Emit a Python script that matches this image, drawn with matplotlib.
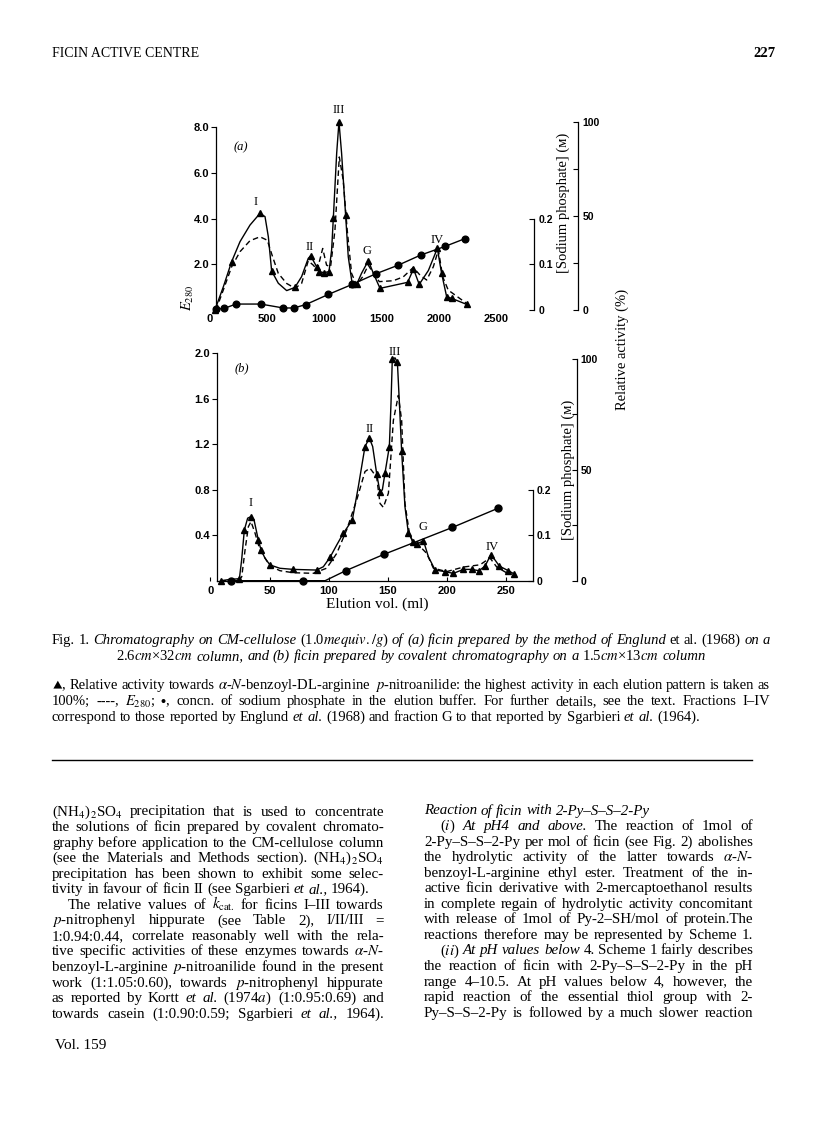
import matplotlib
matplotlib.use('Agg')
import matplotlib.pyplot as plt
from matplotlib.lines import Line2D

plt.rcParams['mathtext.fontset'] = 'stix'

SERIF = ['Liberation Serif', 'DejaVu Serif']
SANS = ['Liberation Sans Narrow', 'Liberation Sans', 'DejaVu Sans']

# ---------------- panel (a): elution vol. in ml ----------------
# E280 (dashed)
e_a_x = [57, 121, 194, 267, 354, 441, 505, 551, 601, 674, 746, 804, 862, 906, 941, 988,
         1022, 1057, 1095, 1133, 1167, 1202, 1240, 1284, 1336, 1386, 1430, 1482, 1604,
         1691, 1778, 1836, 1895, 1953, 1997, 2035, 2083, 2243]
e_a_y = [0, 0.87, 1.89, 2.55, 3.03, 3.2, 3.05, 2.33, 1.6, 1.16, 0.95, 1.16, 2.15, 1.96,
         1.75, 2.69, 1.96, 1.89, 3.49, 6.69, 5.67, 3.49, 1.6, 1.09, 1.45, 1.96, 1.6, 1.24,
         1.28, 1.45, 1.86, 1.53, 1.31, 1.89, 2.62, 1.45, 0.87, 0.29]
# relative activity (%), solid curve and triangles
act_a_x = [48, 122, 194, 267, 354, 441, 485, 514, 543, 601, 674, 746, 804, 862, 883, 935,
           958, 999, 1043, 1066, 1081, 1110, 1130, 1153, 1188, 1211, 1246, 1284, 1327,
           1386, 1430, 1488, 1729, 1780, 1830, 1910, 1988, 2025, 2069, 2112, 2243]
act_a_y = [0, 12.4, 25.7, 36.3, 45.1, 51.3, 49.6, 38.9, 20.7, 14.2, 10.3, 12.0, 17.7,
           27.4, 28.8, 23.0, 20.4, 19.8, 20.4, 31.9, 49.0, 83.2, 100, 83.2, 50.4, 28.3,
           13.6, 13.6, 19.5, 26.2, 19.5, 11.5, 14.7, 21.8, 13.6, 21.0, 32.7, 19.5, 7.1,
           6.2, 3.0]
tri_a_x = [48, 194, 441, 543, 746, 883, 935, 958, 999, 1043, 1081, 1130, 1188, 1246,
           1284, 1386, 1488, 1729, 1780, 1830, 1988, 2025, 2069, 2112, 2243]
tri_a_y = [0, 25.7, 51.3, 20.7, 12.0, 28.8, 23.0, 20.4, 19.8, 20.4, 49.0, 100, 50.4,
           13.6, 13.6, 26.2, 11.5, 14.7, 21.8, 13.6, 32.7, 19.5, 7.1, 6.2, 3.0]
# sodium phosphate (M)
na_a_x = [55, 130, 232, 447, 645, 737, 842, 1037, 1246, 1450, 1647, 1842, 2055, 2229]
na_a_y = [0.0015, 0.0036, 0.013, 0.013, 0.0044, 0.0044, 0.012, 0.034, 0.056, 0.079,
          0.098, 0.12, 0.139, 0.156]

# ---------------- panel (b) ----------------
e_b_x = [8.7, 16.6, 24.5, 26.5, 29.3, 32.1, 34.3, 37.7, 41.9, 50.4, 58.8, 70.1, 87.0,
         98.3, 106.8, 115.3, 123.7, 130.7, 134.9, 140.6, 143.4, 146.2, 150.5, 154.7,
         158.9, 161.7, 164.5, 168.2, 171.6, 177.3, 182.9, 188.5, 199.8, 213.9, 228.0,
         236.4, 242.1, 252.0]
e_b_y = [0, 0, 0.006, 0.035, 0.27, 0.475, 0.52, 0.42, 0.27, 0.13, 0.088, 0.07, 0.065,
         0.11, 0.24, 0.45, 0.71, 0.96, 0.99, 0.91, 0.68, 0.645, 0.77, 1.41, 1.63, 1.41,
         0.68, 0.42, 0.32, 0.30, 0.24, 0.11, 0.08, 0.12, 0.14, 0.2, 0.12, 0.06]
act_b_x = [8.7, 17.1, 24.5, 26.4, 28.7, 31.5, 34.3, 36.9, 40.5, 42.8, 46.2, 50.4, 58.8,
           70.1, 89.8, 95.5, 101.1, 106.8, 112.4, 120.0, 125.1, 130.7, 134.4, 137.2,
           140.6, 143.4, 145.4, 147.6, 151.3, 152.7, 153.8, 156.1, 158.1, 159.8, 161.7,
           164.5, 167.4, 171.6, 175.0, 180.1, 184.3, 190.0, 198.4, 205.4, 213.9, 220.9,
           227.1, 232.2, 237.0, 240.7, 244.3, 251.9, 257.0]
act_b_y = [0, 0.6, 0.9, 9.3, 22.9, 28.2, 28.9, 27.4, 18.4, 13.9, 10.1, 7.1, 5.6, 5.1,
           4.8, 6.3, 10.5, 16.1, 21.4, 27.4, 42.5, 60.5, 64.3, 60.5, 48.2, 39.9, 41.0,
           48.5, 60.5, 80.1, 100, 100.5, 98.5, 80.1, 58.3, 33.4, 21.4, 17.6, 16.6, 18.1,
           10.8, 4.8, 4.1, 3.3, 5.1, 5.1, 4.5, 6.6, 11.6, 9.3, 6.6, 4.5, 3.0]
tri_b_x = [8.7, 24.5, 28.7, 34.3, 40.5, 42.8, 50.4, 70.1, 89.8, 101.1, 112.4, 120.0,
           130.7, 134.4, 140.6, 143.4, 147.6, 151.3, 153.8, 158.1, 161.7, 167.4, 171.6,
           175.0, 180.1, 190.0, 198.4, 205.4, 213.9, 220.9, 227.1, 232.2, 237.0, 244.3,
           251.9, 257.0]
tri_b_y = [0, 0.9, 22.9, 28.9, 18.4, 13.9, 7.1, 5.1, 4.8, 10.5, 21.4, 27.4, 60.5, 64.3,
           48.2, 39.9, 48.5, 60.5, 100, 98.5, 58.3, 21.4, 17.6, 16.6, 18.1, 4.8, 4.1, 3.3,
           5.1, 5.1, 4.5, 6.6, 11.6, 6.6, 4.5, 3.0]
na_b_x = [17.1, 78.6, 114.4, 146.8, 204.5, 242.9]
na_b_y = [0, 0, 0.022, 0.058, 0.117, 0.159]
na_b_line_x = [17.1, 78.6, 97.0, 114.4, 146.8, 204.5, 242.9]
na_b_line_y = [0, 0, 0, 0.022, 0.058, 0.117, 0.159]

# ---------------- page text ----------------
caption1 = ("Fig. 1. /Chromatography /on /CM-cellulose (1.0$\\mathit{mequiv./g}$) /of /(a) /ficin "
            "/prepared /by /the /method /of /Englund et al. (1968) /on /a")
caption2 = ("2.6$\\mathit{cm}$\u00d732$\\mathit{cm}$ /column, /and /(b) /ficin /prepared /by "
            "/covalent /chromatography /on /a 1.5$\\mathit{cm}$\u00d713$\\mathit{cm}$ /column")
legend_lines = [
    "$\\blacktriangle$, Relative activity towards $\\alpha$-$\\mathit{N}$-benzoyl-DL-arginine "
    "$\\mathit{p}$-nitroanilide: the highest activity in each elution pattern is taken as",
    "100%; ----, $E_{280}$; $\\bullet$, concn. of sodium phosphate in the elution buffer. "
    "For further details, see the text. Fractions I\u2013IV",
    "correspond to those reported by Englund /et /al. (1968) and fraction G to that "
    "reported by Sgarbieri /et /al. (1964).",
]
# (text, indent, justified)
left_col = [
    ("(NH$_4$)$_2$SO$_4$ precipitation that is used to concentrate", 0, True),
    ("the solutions of ficin prepared by covalent chromato-", 0, True),
    ("graphy before application to the CM-cellulose column", 0, True),
    ("(see the Materials and Methods section). (NH$_4$)$_2$SO$_4$", 0, True),
    ("precipitation has been shown to exhibit some selec-", 0, True),
    ("tivity in favour of ficin II (see Sgarbieri /et /al., 1964).", 0, False),
    ("The relative values of $k_{\\mathrm{cat.}}$ for ficins I\u2013III towards", 16, True),
    ("$\\mathit{p}$-nitrophenyl hippurate (see Table 2), I/II/III =", 0, True),
    ("1:0.94:0.44, correlate reasonably well with the rela-", 0, True),
    ("tive specific activities of these enzymes towards $\\alpha$-$\\mathit{N}$-", 0, True),
    ("benzoyl-L-arginine $\\mathit{p}$-nitroanilide found in the present", 0, True),
    ("work (1:1.05:0.60), towards $\\mathit{p}$-nitrophenyl hippurate", 0, True),
    ("as reported by Kortt /et /al. (1974$\\mathit{a}$) (1:0.95:0.69) and", 0, True),
    ("towards casein (1:0.90:0.59; Sgarbieri /et /al., 1964).", 0, True),
]
right_col = [
    ("/Reaction /of /ficin /with /2-Py\u2013S\u2013S\u20132-Py", 0, False),
    ("($\\mathit{i}$) /At /pH4 /and /above. The reaction of 1mol of", 16, True),
    ("2-Py\u2013S\u2013S\u20132-Py per mol of ficin (see Fig. 2) abolishes", 0, True),
    ("the hydrolytic activity of the latter towards $\\alpha$-$\\mathit{N}$-", 0, True),
    ("benzoyl-L-arginine ethyl ester. Treatment of the in-", 0, True),
    ("active ficin derivative with 2-mercaptoethanol results", 0, True),
    ("in complete regain of hydrolytic activity concomitant", 0, True),
    ("with release of 1mol of Py-2\u2013SH/mol of protein.The", 0, True),
    ("reactions therefore may be represented by Scheme 1.", 0, True),
    ("($\\mathit{ii}$) /At /pH /values /below 4. Scheme 1 fairly describes", 16, True),
    ("the reaction of ficin with 2-Py\u2013S\u2013S\u20132-Py in the pH", 0, True),
    ("range 4\u201310.5. At pH values below 4, however, the", 0, True),
    ("rapid reaction of the essential thiol group with 2-", 0, True),
    ("Py\u2013S\u2013S\u20132-Py is followed by a much slower reaction", 0, True),
]

W, H = 816, 1136
fig = plt.figure(figsize=(W / 100, H / 100), dpi=100)
renderer = fig.canvas.get_renderer()


def fx(px):
    return px / W


def fy(py):
    return 1 - py / H


def word_line(text, x0, x1, y, size=10.5, justify=True, indent=0, center=None):
    # draws a line word by word so it can be justified like the printed page
    tokens = text.split(' ')
    start = x0 + indent
    min_gap = 2.5
    for attempt in range(3):
        arts, widths = [], []
        for tok in tokens:
            ital = tok.startswith('/') and len(tok) > 1
            s = tok[1:] if ital else tok
            t = fig.text(0, fy(y), s, fontsize=size, family=SERIF,
                         style='italic' if ital else 'normal', va='baseline', ha='left')
            widths.append(t.get_window_extent(renderer).width)
            arts.append(t)
        need = sum(widths) + min_gap * (len(arts) - 1)
        if center is not None or need <= x1 - start or attempt == 2:
            break
        for t in arts:
            t.remove()
        size = size * (x1 - start) / need * 0.995
    space = size * 100 / 72 * 0.25
    if justify and len(arts) > 1:
        gap = max((x1 - start - sum(widths)) / (len(arts) - 1), min_gap)
    else:
        gap = space
    if center is not None:
        start = center - (sum(widths) + gap * (len(arts) - 1)) / 2
    x = start
    for t, w in zip(arts, widths):
        t.set_x(fx(x))
        x += w + gap


def style_left(ax, top_tick, ticks, labels):
    ax.spines['top'].set_visible(False)
    ax.spines['right'].set_visible(False)
    ax.spines['left'].set_bounds(0, top_tick)
    ax.set_yticks(ticks)
    ax.set_yticklabels(labels, fontfamily=SANS, fontweight='bold', fontsize=8)
    ax.tick_params(axis='y', direction='out', length=3.5, width=0.8, pad=1.5)
    for s in ax.spines.values():
        s.set_linewidth(0.9)


def style_right(ax2, hi, ticks, labels, pos=None):
    for s in ['top', 'bottom', 'left']:
        ax2.spines[s].set_visible(False)
    if pos is not None:
        ax2.spines['right'].set_position(('axes', pos))
    ax2.spines['right'].set_bounds(0, hi)
    ax2.spines['right'].set_linewidth(0.9)
    ax2.set_yticks(ticks)
    ax2.set_yticklabels(labels, fontfamily=SANS, fontweight='bold', fontsize=7.5)
    ax2.tick_params(axis='y', direction='in', length=3.5, width=0.8, pad=3)


# ======== panel (a) ========
a_left, a_right, a_top, a_bot = 209.4, 534, 115, 310
ax_a = fig.add_axes([fx(a_left), fy(a_bot), (a_right - a_left) / W, (a_bot - a_top) / H])
ax_a.spines['left'].set_position(('data', 60))
ax_a.set_xlim(0, 2831)
ax_a.set_ylim(0, 8.525)
ax_a.plot(e_a_x, e_a_y, color='black', lw=1.0, ls=(0, (4, 2.5)))
style_left(ax_a, 8.0, [2, 4, 6, 8], ['2.0', '4.0', '6.0', '8.0'])
ax_a.spines['bottom'].set_visible(False)
ax_a.set_xticks([0, 500, 1000, 1500, 2000, 2500])
ax_a.set_xticklabels(['0', '500', '1000', '1500', '2000', '2500'],
                     fontfamily=SANS, fontweight='bold', fontsize=8)
ax_a.tick_params(axis='x', length=0, pad=3)

na_a = ax_a.twinx()
na_a.set_ylim(0, 8.525 / 20)
na_a.plot(na_a_x, na_a_y, color='black', lw=1.0, marker='o', ms=4.8, clip_on=False)
style_right(na_a, 0.2, [0, 0.1, 0.2], ['0', '0.1', '0.2'])

ra_a = ax_a.twinx()
ra_a.set_ylim(0, 103.56)
ra_a.plot(act_a_x, act_a_y, color='black', lw=1.0, clip_on=False)
ra_a.plot(tri_a_x, tri_a_y, ls='none', marker='^', color='black', ms=4.5, clip_on=False)
style_right(ra_a, 100, [0, 25, 50, 75, 100], ['0', '', '50', '', '100'],
            pos=(578.3 - a_left) / (a_right - a_left))

# ======== panel (b) ========
b_left, b_right, b_top, b_bot = 210.4, 532.7, 345, 580.7
ax_b = fig.add_axes([fx(b_left), fy(b_bot), (b_right - b_left) / W, (b_bot - b_top) / H])
ax_b.spines['left'].set_position(('data', 5.5))
ax_b.set_xlim(0, 272.5)
ax_b.set_ylim(0, 2.073)
ax_b.plot(e_b_x, e_b_y, color='black', lw=1.0, ls=(0, (4, 2.5)))
style_left(ax_b, 2.0, [0.4, 0.8, 1.2, 1.6, 2.0], ['0.4', '0.8', '1.2', '1.6', '2.0'])
ax_b.spines['bottom'].set_bounds(5.5, 272.5)
ax_b.set_xticks([0, 50, 100, 150, 200, 250])
ax_b.set_xticklabels(['0', '50', '100', '150', '200', '250'],
                     fontfamily=SANS, fontweight='bold', fontsize=8)
ax_b.tick_params(axis='x', direction='in', length=3, width=0.8, pad=3.5)

na_b = ax_b.twinx()
na_b.set_ylim(0, 2.073 / 4)
na_b.plot(na_b_line_x, na_b_line_y, color='black', lw=1.0, clip_on=False)
na_b.plot(na_b_x, na_b_y, ls='none', marker='o', color='black', ms=5, clip_on=False)
style_right(na_b, 0.2, [0, 0.1, 0.2], ['0', '0.1', '0.2'])

ra_b = ax_b.twinx()
ra_b.set_ylim(0, 106.3)
ra_b.plot(act_b_x, act_b_y, color='black', lw=1.0, clip_on=False)
ra_b.plot(tri_b_x, tri_b_y, ls='none', marker='^', color='black', ms=4.5, clip_on=False)
style_right(ra_b, 100, [0, 25, 50, 75, 100], ['0', '', '50', '', '100'],
            pos=(576.7 - b_left) / (b_right - b_left))

# ---- figure labels ----
peak_labels = [('I', 256, 201.7), ('II', 310, 246.7), ('III', 338.7, 110),
               ('G', 366.7, 250.7), ('IV', 437.3, 240),
               ('I', 251, 502.7), ('II', 369.3, 429), ('III', 394.3, 351.7),
               ('G', 423.3, 526.7), ('IV', 491.7, 546.7)]
for txt, px, py in peak_labels:
    fig.text(fx(px), fy(py), txt, family=SERIF, fontsize=9, ha='center', va='center')
fig.text(fx(240.7), fy(147.3), '(a)', family=SERIF, style='italic', fontsize=9,
         ha='center', va='center')
fig.text(fx(241.7), fy(368.3), '(b)', family=SERIF, style='italic', fontsize=9,
         ha='center', va='center')
fig.text(fx(563), fy(203), '[Sodium phosphate] (\u043c)', family=SERIF, fontsize=10.5,
         rotation=90, ha='center', va='center')
fig.text(fx(568), fy(470), '[Sodium phosphate] (\u043c)', family=SERIF, fontsize=10.5,
         rotation=90, ha='center', va='center')
fig.text(fx(622), fy(349), 'Relative activity (%)', family=SERIF, fontsize=10.5,
         rotation=90, ha='center', va='center')
fig.text(fx(188), fy(298), '$E_{280}$', fontsize=10.5, rotation=90, ha='center', va='center')
fig.text(fx(377), fy(604), 'Elution vol. (ml)', family=SERIF, fontsize=11,
         ha='center', va='center')

# ---- page header ----
fig.text(fx(52), fy(57), 'FICIN ACTIVE CENTRE', family=SERIF, fontsize=10, va='baseline')
fig.text(fx(776), fy(57), '227', family=SERIF, fontsize=10.5, fontweight='bold',
         ha='right', va='baseline')

# ---- caption and legend ----
word_line(caption1, 52, 770, 644, size=10.5)
word_line(caption2, 52, 770, 660, size=10.5, justify=False, center=411)
for i, line in enumerate(legend_lines):
    word_line(line, 52, 770, 689 + 16 * i, size=10.5, justify=(i < 2))

fig.add_artist(Line2D([fx(52), fx(752)], [fy(760), fy(760)], color='black', lw=1.0))

# ---- body columns ----
for i, (line, ind, just) in enumerate(left_col):
    word_line(line, 52, 384, 815.5 + 15.55 * i, size=10.8, justify=just, indent=ind)
for i, (line, ind, just) in enumerate(right_col):
    word_line(line, 424, 753, 814.5 + 15.55 * i, size=10.8, justify=just, indent=ind)
fig.text(fx(55), fy(1049), 'Vol. 159', family=SERIF, fontsize=11, va='baseline')

fig.savefig('out.png', dpi=100)
